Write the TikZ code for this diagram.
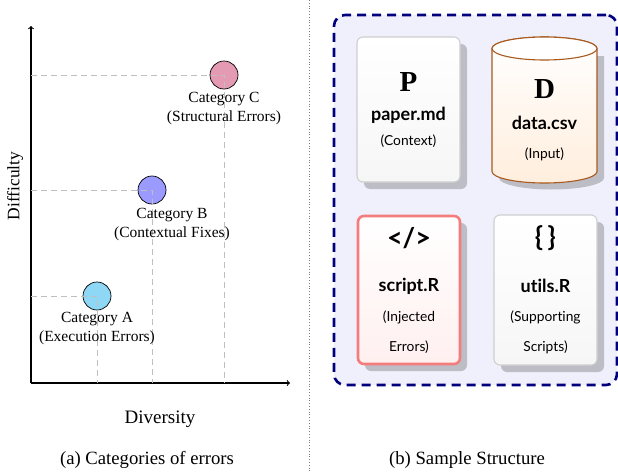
\documentclass[tikz,border=0pt]{standalone}
\usepackage{fontspec}
\setmainfont{Liberation Serif}
\setsansfont{Lato}[Ligatures=NoCommon]
\usetikzlibrary{shadows}
\definecolor{cA}{HTML}{8ED8F5}
\definecolor{cB}{HTML}{9A9AFF}
\definecolor{cC}{HTML}{E49AB2}
\definecolor{navyc}{HTML}{00007F}
\definecolor{lav}{HTML}{F0F0FC}
\definecolor{shadowc}{HTML}{BDBDC6}
\definecolor{cardborder}{HTML}{CFCFCF}
\definecolor{redborder}{HTML}{F47C7C}
\definecolor{sienna}{HTML}{A85A1E}
\definecolor{cylfill}{HTML}{FFEEDD}
\tikzset{
  axis/.style={->, >=to, line width=1.1pt},
  guide/.style={gray!50, dashed, dash pattern=on 6pt off 4pt, line width=0.8pt},
  dot/.style={circle, draw=black, line width=0.7pt, minimum size=28pt, inner sep=0pt},
  catlabel/.style={align=center, font=\fontsize{15.5}{19}\selectfont, inner sep=0pt},
  biglabel/.style={font=\fontsize{18.7}{22}\selectfont, inner sep=0pt},
  card/.style={rounded corners=6pt, draw=cardborder, line width=1.1pt, top color=white, bottom color=gray!7,
    minimum width=103pt, minimum height=145pt,
    drop shadow={shadow xshift=7pt, shadow yshift=-7pt, fill=shadowc, opacity=1}},
  redcard/.style={card, draw=redborder, line width=2.6pt, bottom color=red!6},
  letter/.style={font=\rmfamily\bfseries\fontsize{29}{32}\selectfont, inner sep=0pt},
  icon/.style={font=\sffamily\bfseries\fontsize{27}{30}\selectfont, inner sep=0pt},
  fname/.style={font=\sffamily\bfseries\fontsize{18}{21}\selectfont, inner sep=0pt},
  fdesc/.style={font=\sffamily\fontsize{13.8}{16}\selectfont, inner sep=0pt},
}
\begin{document}
\begin{tikzpicture}[x=1pt,y=-1pt]
\useasboundingbox (0,0) rectangle (618,471);
% ---------- left panel ----------
\coordinate (O) at (31,383);
\coordinate (Ytop) at (31,26);
\coordinate (Xend) at (290,383);
\draw[axis] (O) -- (Ytop);
\draw[axis] (O) -- (Xend);
\node[dot, fill=cA] (A) at (97,296) {};
\node[dot, fill=cB] (B) at (152,190) {};
\node[dot, fill=cC] (C) at (224,75) {};
\foreach \p in {A,B,C}{
  \draw[guide] (O |- \p.center) -- (\p.center) -- (\p.center |- O);
}
\node[catlabel] (lA) at (97,329) {Category A\\(Execution Errors)};
\node[catlabel] (lB) at (172,225) {Category B\\(Contextual Fixes)};
\node[catlabel] (lC) at (224,109) {Category C\\(Structural Errors)};
\node[biglabel, font=\fontsize{17.5}{20}\selectfont, rotate=90] (ylab) at (15,186) {Difficulty};
\node[biglabel, font=\fontsize{19}{22}\selectfont] (xlab) at (160,419) {Diversity};
\node[biglabel] (capa) at (147,460) {(a) Categories of errors};
% separator
\coordinate (s1) at (309,0);
\coordinate (s2) at (309,471);
\draw[dotted, gray, line width=0.8pt] (s1) -- (s2);
% ---------- right panel ----------
\node[draw=navyc, fill=lav, line width=2.6pt, dash pattern=on 9pt off 6pt, rounded corners=11pt,
  minimum width=283pt, minimum height=370pt, inner sep=0pt] (frame) at (475.5,200) {};
% P card
\node[card] (P) at (408.5,109.5) {};
\node[letter] (Pi) at (408.5,82) {P};
\node[fname] (Pn) at (408.5,115) {paper.md};
\node[fdesc] (Pd) at (408.5,141) {(Context)};
% cylinder D
\fill[shadowc] (499,56) -- (499,178) arc[start angle=180,end angle=0,x radius=52.5,y radius=11.5]
  -- (604,56) -- cycle;
\path[draw=sienna, line width=1.1pt, top color=white, bottom color=cylfill]
  (492,48.5) -- (492,171.5) arc[start angle=180,end angle=0,x radius=52.5,y radius=11.5]
  -- (597,48.5) arc[start angle=0,end angle=-180,x radius=52.5,y radius=11.5] -- cycle;
\draw[sienna, line width=1.1pt, fill=white] (544.5,48.5) ellipse[x radius=52.5,y radius=11.5];
\node[letter] (Di) at (544.5,89) {D};
\node[fname] (Dn) at (544.5,123) {data.csv};
\node[fdesc] (Dd) at (544.5,154) {(Input)};
% script card
\node[redcard, minimum width=102pt, minimum height=148pt] (S) at (409,290) {};
\node[icon] (Si) at (409,238) {</>};
\node[fname] (Sn) at (409,286) {script.R};
\node[fdesc] (Sd1) at (409,317) {(Injected};
\node[fdesc] (Sd2) at (409,347) {Errors)};
% utils card
\node[card, minimum width=103pt, minimum height=150pt] (U) at (545.5,290) {};
\node[icon] (Ui) at (545.5,238) {\{\,\}};
\node[fname] (Un) at (545.5,286) {utils.R};
\node[fdesc] (Ud1) at (545.5,317) {(Supporting};
\node[fdesc] (Ud2) at (545.5,347) {Scripts)};
\node[biglabel] (capb) at (467,460) {(b) Sample Structure};
\end{tikzpicture}
\end{document}
